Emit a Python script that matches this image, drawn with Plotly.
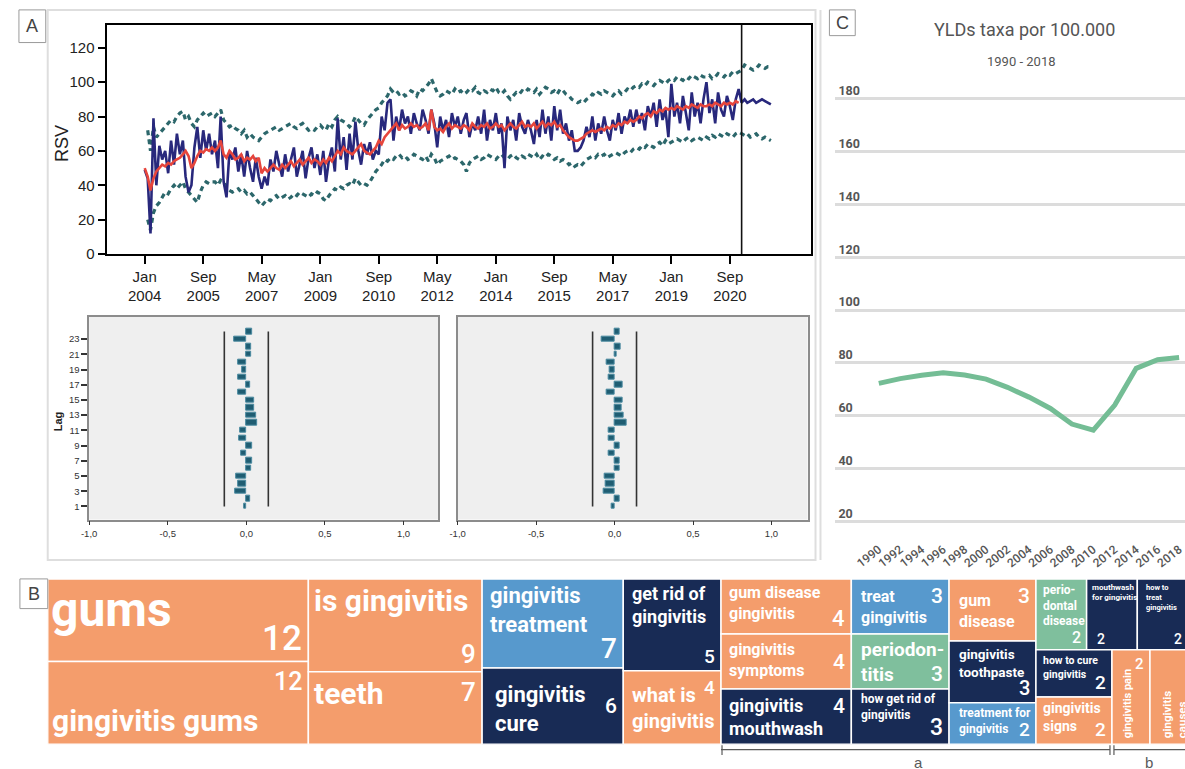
import plotly.graph_objects as go
import pandas as pd

W, H = 1185, 769

# ---------------- Panel A: monthly relative search volume ----------------
rsv = [
    49, 44, 12, 79, 40, 63, 55, 60, 47, 66, 52, 70,
    58, 66, 45, 36, 40, 62, 74, 56, 72, 60, 70, 58,
    66, 50, 80, 42, 33, 60, 55, 62, 48, 58, 45, 60,
    50, 42, 56, 45, 38, 45, 40, 55, 48, 60, 52, 45,
    58, 48, 55, 62, 45, 52, 60, 44, 56, 62, 50, 58,
    46, 60, 42, 55, 62, 48, 79, 55, 68, 49, 70, 55,
    77, 60, 52, 64, 58, 65, 55, 60, 58, 80, 72, 88,
    90, 66, 80, 72, 84, 76, 80, 70, 82, 76, 72, 84,
    78, 70, 84, 76, 62, 80, 72, 78, 68, 82, 74, 80,
    70, 78, 82, 68, 76, 72, 80, 70, 84, 66, 78, 72,
    82, 70, 76, 50, 80, 72, 78, 66, 82, 74, 70, 78,
    72, 64, 78, 68, 84, 70, 80, 66, 86, 72, 84, 70,
    76, 66, 72, 60, 60, 62, 66, 74, 68, 80, 66, 76,
    70, 80, 72, 66, 78, 72, 82, 70, 80, 76, 84, 74,
    84, 76, 82, 72, 86, 80, 88, 74, 90, 78, 84, 68,
    99, 80, 88, 76, 92, 82, 72, 94, 80, 88, 76, 90,
    100, 82, 90, 76, 94, 84, 80, 92, 86, 78, 90, 96,
    88, 90, 88, 89, 90, 88, 89, 90, 89, 88, 87,
]
rsv_fit = [
    50, 45, 37, 44, 48, 50, 52, 51, 53, 52, 54, 55,
    56, 58, 60, 57, 50, 53, 57, 60, 59, 61, 60, 62,
    60, 62, 66, 58, 56, 60, 58, 55, 56, 58, 54, 56,
    55, 57, 54, 56, 47, 50, 48, 50, 52, 50, 49, 52,
    50, 52, 54, 51, 53, 55, 52, 54, 56, 53, 55, 54,
    52, 55, 53, 56, 54, 57, 60, 58, 62, 60, 59, 58,
    60, 62, 64, 60, 59, 58, 60, 62, 66, 64, 68, 70,
    72, 74, 76, 72, 75, 73, 74, 76, 74, 75, 73, 74,
    76, 72, 84, 74, 72, 73, 71, 74, 76, 73, 75, 74,
    73, 75, 74, 72, 76, 74, 73, 75, 74, 76, 73, 74,
    76, 74, 75, 72, 74, 76, 74, 73, 75, 77, 74, 75,
    74, 76, 73, 75, 77, 74, 76, 75, 77, 74, 75, 72,
    70, 68, 67, 66, 66, 67, 68, 70, 71, 72, 71, 72,
    73, 72, 74, 73, 75, 74, 76, 75, 77, 76, 78, 77,
    78, 80, 79, 81, 82, 80, 83, 82, 84, 83, 85, 84,
    85, 84, 86, 85, 84, 86, 85, 87, 86, 85, 87, 86,
    86, 87, 86, 88, 87, 86, 88, 87, 88, 87, 89, 88,
]
rsv_ucl = [
    72, 60, 74, 68, 70, 72, 74, 76, 78, 77, 80,
    82, 83, 78, 80, 76, 74, 78, 80, 82, 80, 81, 82,
    80, 82, 84, 78, 76, 74, 75, 73, 72, 70, 72, 68,
    70, 68, 67, 66, 68, 70, 71, 72, 73, 74, 72, 73,
    74, 75, 76, 74, 73, 75, 76, 74, 72, 73, 72, 74,
    75, 73, 72, 76, 74, 78, 80, 78, 77, 76, 74, 76,
    80, 78, 76, 75, 78, 80, 82, 84, 85, 88, 90, 92,
    96, 94, 95, 93, 94, 92, 93, 95, 94, 92, 96, 95,
    97, 99, 102, 98, 94, 92, 93, 95, 94, 93, 96, 94,
    95, 93, 94, 96, 95, 97, 94, 93, 95, 94, 96, 95,
    97, 94, 93, 95, 92, 90, 92, 94, 93, 95, 94, 96,
    95, 94, 96, 93, 95, 97, 96, 94, 95, 93, 96, 95,
    93, 92, 90, 89, 88, 89, 88, 90, 91, 93, 92, 94,
    93, 95, 94, 93, 92, 94, 95, 93, 94, 96, 95, 97,
    98, 97, 99, 98, 100, 99, 98, 100, 101, 100, 99, 101,
    102, 101, 103, 102, 101, 103, 102, 104, 103, 102, 104, 103,
    103, 104, 102, 103, 105, 104, 103, 105, 104, 106, 105, 106,
    107, 110, 109, 108, 107, 108, 110, 109, 108, 109, 109,
]
rsv_lcl = [
    20, 14, 24, 28, 30, 33, 36, 35, 38, 40, 38,
    40, 42, 38, 36, 34, 32, 30, 36, 40, 42, 41, 42,
    42, 40, 43, 42, 38, 37, 36, 37, 38, 36, 37, 35,
    36, 34, 32, 30, 28, 30, 32, 31, 33, 34, 32, 33,
    34, 32, 33, 35, 34, 36, 35, 34, 33, 35, 34, 36,
    35, 32, 31, 34, 36, 38, 37, 39, 38, 40, 41, 40,
    44, 42, 40, 41, 40, 42, 45, 48, 50, 52, 55, 54,
    56, 55, 57, 58, 56, 57, 55, 56, 58, 57, 56, 55,
    57, 54, 58, 56, 52, 54, 55, 56, 57, 55, 56, 55,
    54, 52, 48, 53, 55, 56, 57, 55, 56, 58, 57, 56,
    55, 57, 58, 56, 55, 57, 58, 56, 55, 57, 56, 58,
    57, 56, 58, 55, 57, 56, 58, 57, 55, 56, 54, 55,
    54, 52, 53, 51, 52, 51, 53, 55, 56, 57, 56, 58,
    57, 58, 56, 57, 58, 59, 58, 57, 59, 60, 59, 61,
    62, 61, 63, 62, 64, 63, 62, 64, 65, 63, 66, 64,
    65, 66, 67, 66, 65, 67, 68, 66, 67, 68, 67, 66,
    68, 67, 69, 68, 70, 69, 68, 70, 69, 68, 70, 71,
    70, 69, 70, 68, 69, 70, 68, 67, 68, 67, 66,
]
forecast_start = "2021-01-01"
date_ticks = ["2004-01-01", "2005-09-01", "2007-05-01", "2009-01-01", "2010-09-01",
              "2012-05-01", "2014-01-01", "2015-09-01", "2017-05-01", "2019-01-01",
              "2020-09-01"]
date_tick_text = ["Jan<br>2004", "Sep<br>2005", "May<br>2007", "Jan<br>2009", "Sep<br>2010",
                  "May<br>2012", "Jan<br>2014", "Sep<br>2015", "May<br>2017", "Jan<br>2019",
                  "Sep<br>2020"]

# residual autocorrelations
lags = list(range(1, 25))
acf_vals = [-0.015, 0.025, -0.07, -0.055, -0.065, 0.03, 0.035, -0.03, 0.04, -0.045,
            -0.04, 0.07, 0.06, 0.05, 0.05, -0.05, 0.025, -0.05, -0.025, -0.05,
            0.03, 0.03, -0.075, 0.04]
pacf_vals = [-0.02, 0.03, -0.07, -0.055, -0.065, 0.03, 0.03, -0.04, 0.035, -0.04,
             -0.04, 0.075, 0.06, 0.045, 0.05, -0.05, 0.05, -0.035, -0.03, -0.05,
             0.015, 0.04, -0.085, 0.03]
conf_limit = 0.14
acf_ticks = [-1.0, -0.5, 0.0, 0.5, 1.0]
acf_tick_text = ["-1,0", "-0,5", "0,0", "0,5", "1,0"]

# ---------------- Panel C: YLD rate per 100,000 ----------------
yld_years = [1990, 1992, 1994, 1996, 1998, 2000, 2002, 2004, 2006, 2008, 2010, 2012,
             2014, 2016, 2018]
yld_rate = [72.2, 74.0, 75.3, 76.2, 75.4, 73.8, 70.7, 67.0, 62.7, 56.8, 54.5, 64.0,
            77.9, 81.2, 82.0]

# ---------------- Panel B: related search terms ----------------
terms = ["gums", "gingivitis gums", "is gingivitis", "teeth", "gingivitis treatment",
         "gingivitis cure", "get rid of gingivitis", "what is gingivitis",
         "gum disease gingivitis", "gingivitis symptoms", "gingivitis mouthwash",
         "treat gingivitis", "periodontitis", "how get rid of gingivitis", "gum disease",
         "gingivitis toothpaste", "treatment for gingivitis", "periodontal disease",
         "mouthwash for gingivitis", "how to treat gingivitis", "how to cure gingivitis",
         "gingivitis signs", "gingivitis pain", "gingivitis causes"]
term_score = [12, 12, 9, 7, 7, 6, 5, 4, 4, 4, 4, 3, 3, 3, 3, 3, 2, 2, 2, 2, 2, 2, 2, 2]
term_group = ["o", "o", "o", "o", "lb", "n", "n", "o", "o", "o", "n", "lb", "g", "n",
              "o", "n", "lb", "g", "n", "n", "n", "o", "o", "o"]

# ---- styling for the term tiles ----
group_color = {"o": "#f49d6c", "lb": "#5799cd", "n": "#182b55", "g": "#7fbf9d"}
display_text = {
    "gingivitis treatment": "gingivitis<br>treatment", "gingivitis cure": "gingivitis<br>cure",
    "get rid of gingivitis": "get rid of<br>gingivitis", "what is gingivitis": "what is<br>gingivitis",
    "gum disease gingivitis": "gum disease<br>gingivitis",
    "gingivitis symptoms": "gingivitis<br>symptoms", "gingivitis mouthwash": "gingivitis<br>mouthwash",
    "treat gingivitis": "treat<br>gingivitis", "periodontitis": "periodon-<br>titis",
    "how get rid of gingivitis": "how get rid of<br>gingivitis", "gum disease": "gum<br>disease",
    "gingivitis toothpaste": "gingivitis<br>toothpaste",
    "treatment for gingivitis": "treatment for<br>gingivitis",
    "periodontal disease": "perio-<br>dontal<br>disease",
    "mouthwash for gingivitis": "mouthwash<br>for gingivitis",
    "how to treat gingivitis": "how to<br>treat<br>gingivitis",
    "how to cure gingivitis": "how to cure<br>gingivitis", "gingivitis signs": "gingivitis<br>signs",
    "gingivitis causes": "gingivitis<br>causes",
}
label_size = [48, 30, 30, 30, 22, 22, 18, 20, 16, 16, 18, 16, 19, 12, 16, 13.5, 12, 12, 8,
              7.5, 10.5, 14, 11, 11.5]
label_top = [0, None, 2, 2, 2, 12, 2, 10, 2, 4, 4, 6, 2, 1, 10, 3, 1, 2, 2, 2, 2, 1, None, None]
label_left = [1, 2, 4, 4, 6, 11, 7, 7, 6, 6, 6, 8, 8, 8, 8, 8, 8, 5, 3, 7, 5, 5, 7, 8]
value_size = [35, 25, 26, 26, 28, 21, 19, 19, 22, 21, 21, 21, 21, 23, 21, 20, 19, 16, 14,
              14, 19, 19, 15, 14]
value_pos = ["br", "tr", "br", "tr", "br", "mr", "br", "tr", "br", "mr", "tr", "tr", "br",
             "br", "tr", "br", "br", "br", "bl", "br", "br", "br", "tr", None]


def squarify(values, x0, y0, x1, y1, ratio=(1 + 5 ** 0.5) / 2):
    """Squarified tiling (same rule as d3.treemapSquarify)."""
    rects = [None] * len(values)
    total = float(sum(values))
    i0, n = 0, len(values)
    while i0 < n:
        dx, dy = x1 - x0, y1 - y0
        s = values[i0]
        i1 = i0 + 1
        mn = mx = s
        alpha = max(dy / dx, dx / dy) / (total * ratio)
        beta = s * s * alpha
        best = max(mx / beta, beta / mn)
        while i1 < n:
            v = values[i1]
            s2, mn2, mx2 = s + v, min(mn, v), max(mx, v)
            beta = s2 * s2 * alpha
            r = max(mx2 / beta, beta / mn2)
            if r > best:
                break
            s, mn, mx, best = s2, mn2, mx2, r
            i1 += 1
        if dx < dy:
            h = dy * s / total
            xx = x0
            for i in range(i0, i1):
                w = dx * values[i] / s
                rects[i] = (xx, y0, xx + w, y0 + h)
                xx += w
            y0 += h
        else:
            w = dx * s / total
            yy = y0
            for i in range(i0, i1):
                h = dy * values[i] / s
                rects[i] = (x0, yy, x0 + w, yy + h)
                yy += h
            x0 += w
        total -= s
        i0 = i1
    return rects


def px(x):
    return x / W


def py(y):
    return 1 - y / H


FONT_A = "Arial, Liberation Sans, sans-serif"
FONT_B = "Roboto, sans-serif"

fig = go.Figure()

# ---- time series ----
obs_dates = pd.date_range("2004-01-01", periods=len(rsv), freq="MS")
fit_dates = pd.date_range("2004-01-01", periods=len(rsv_fit), freq="MS")
cl_dates = pd.date_range("2004-02-01", periods=len(rsv_ucl), freq="MS")
for series in (rsv_ucl, rsv_lcl):
    fig.add_trace(go.Scatter(x=cl_dates, y=series, mode="lines", xaxis="x", yaxis="y",
                             line=dict(color="#2c676b", width=3.2, dash="5px,4px"),
                             showlegend=False, hoverinfo="skip"))
fig.add_trace(go.Scatter(x=obs_dates, y=rsv, mode="lines", xaxis="x", yaxis="y",
                         line=dict(color="#28287c", width=2.6), showlegend=False))
fig.add_trace(go.Scatter(x=fit_dates, y=rsv_fit, mode="lines", xaxis="x", yaxis="y",
                         line=dict(color="#e6453c", width=2.6), showlegend=False))

# ---- ACF / PACF of residuals ----
for vals, xa, ya in ((acf_vals, "x2", "y2"), (pacf_vals, "x3", "y3")):
    fig.add_trace(go.Bar(x=vals, y=lags, orientation="h", xaxis=xa, yaxis=ya, width=0.72,
                         marker=dict(color="#1f5d72", line=dict(color="#4a8aa0", width=1)),
                         showlegend=False))
    for c in (-conf_limit, conf_limit):
        fig.add_trace(go.Scatter(x=[c, c], y=[lags[0], lags[-1]], mode="lines",
                                 xaxis=xa, yaxis=ya, line=dict(color="#333333", width=1.6),
                                 showlegend=False, hoverinfo="skip"))

# ---- YLD line ----
fig.add_trace(go.Scatter(x=yld_years, y=yld_rate, mode="lines", xaxis="x4", yaxis="y4",
                         line=dict(color="#74bd95", width=5), showlegend=False))

# ---- term tiles ----
TM_W, TM_H = 1148, 167
rects = squarify(term_score, 0, 0, TM_W, TM_H)
shapes = []
annotations = []
for i, (t, v, g, r) in enumerate(zip(terms, term_score, term_group, rects)):
    x0, y0, x1, y1 = r
    shapes.append(dict(type="rect", xref="x5", yref="y5", x0=x0, y0=y0, x1=x1, y1=y1,
                       fillcolor=group_color[g], line=dict(color="white", width=1.5),
                       layer="below"))
    txt = display_text.get(t, t)
    lf = dict(family=FONT_B, size=label_size[i], color="white", weight=700)
    if i in (22, 23):
        annotations.append(dict(xref="x5", yref="y5", x=x0 + label_left[i], y=y1 - 4,
                                text=txt, textangle=-90, xanchor="left", yanchor="bottom",
                                showarrow=False, font=lf, align="left"))
    elif label_top[i] is None:
        annotations.append(dict(xref="x5", yref="y5", x=x0 + label_left[i], y=y1 - 4,
                                text=txt, xanchor="left", yanchor="bottom",
                                showarrow=False, font=lf, align="left"))
    else:
        annotations.append(dict(xref="x5", yref="y5", x=x0 + label_left[i], y=y0 + label_top[i],
                                text=txt, xanchor="left", yanchor="top",
                                showarrow=False, font=lf, align="left"))
    pos = value_pos[i]
    if pos is None:
        continue
    vf = dict(family=FONT_B, size=value_size[i], color="white", weight=500)
    if pos == "br":
        ax, ay, xa_, ya_ = x1 - 4, y1 - 1, "right", "bottom"
    elif pos == "tr":
        ax, ay, xa_, ya_ = x1 - 4, y0 + 3, "right", "top"
    elif pos == "mr":
        ax, ay, xa_, ya_ = x1 - 4, (y0 + y1) / 2, "right", "middle"
    else:
        ax, ay, xa_, ya_ = x0 + 8, y1 - 1, "left", "bottom"
    annotations.append(dict(xref="x5", yref="y5", x=ax, y=ay, text=str(v), xanchor=xa_,
                            yanchor=ya_, showarrow=False, font=vf))

# bracket under the tiles marking the two term subsets
TM_LEFT = 40
a_start = TM_LEFT + rects[8][0]
b_start = TM_LEFT + rects[22][0]
br_y = 757.5
gray = "#5a5a5a"
for xa0, xa1 in ((a_start, b_start - 2), (b_start + 2, W + 5)):
    shapes.append(dict(type="line", xref="paper", yref="paper", x0=px(xa0), x1=px(xa1),
                       y0=py(br_y), y1=py(br_y), line=dict(color=gray, width=1.2)))
for xt in (a_start + 1, b_start - 2, b_start + 2):
    shapes.append(dict(type="line", xref="paper", yref="paper", x0=px(xt), x1=px(xt),
                       y0=py(753), y1=py(763), line=dict(color=gray, width=1.2)))
annotations.append(dict(xref="paper", yref="paper", x=px((a_start + b_start) / 2 + 2),
                        y=py(760), text="a", showarrow=False, xanchor="center", yanchor="top",
                        font=dict(family=FONT_A, size=15, color=gray)))
annotations.append(dict(xref="paper", yref="paper", x=px(b_start + 37), y=py(760), text="b",
                        showarrow=False, xanchor="center", yanchor="top",
                        font=dict(family=FONT_A, size=15, color=gray)))

# ---- panel frames and letters ----
frame_col = "#dedede"
shapes.append(dict(type="rect", xref="paper", yref="paper", x0=px(40), x1=px(813),
                   y0=py(566), y1=py(10), line=dict(color=frame_col, width=2), layer="below"))
shapes.append(dict(type="line", xref="paper", yref="paper", x0=px(818), x1=px(818),
                   y0=py(566), y1=py(10), line=dict(color=frame_col, width=2), layer="below"))
for letter, (bx0, by0, bx1, by1) in (("A", (11, 10, 38, 43)), ("B", (12, 585, 40, 615)),
                                     ("C", (827, 10, 853, 36))):
    shapes.append(dict(type="rect", xref="paper", yref="paper", x0=px(bx0), x1=px(bx1),
                       y0=py(by1), y1=py(by0), fillcolor="white",
                       line=dict(color="#9a9a9a", width=1)))
    annotations.append(dict(xref="paper", yref="paper", x=px((bx0 + bx1) / 2),
                            y=py((by0 + by1) / 2), text=letter, showarrow=False,
                            xanchor="center", yanchor="middle",
                            font=dict(family=FONT_A, size=18, color="#444444")))

# forecast origin line in panel A
shapes.append(dict(type="line", xref="x", yref="y domain", x0=forecast_start, x1=forecast_start,
                   y0=0, y1=1, line=dict(color="#111111", width=1.6)))
# grey plotting area of the correlograms
for xr, yr in (("x2 domain", "y2 domain"), ("x3 domain", "y3 domain")):
    shapes.append(dict(type="rect", xref=xr, yref=yr, x0=0, x1=1, y0=0, y1=1,
                       fillcolor="#efefef", line=dict(width=0), layer="below"))

# axis titles and panel C headings
annotations += [
    dict(xref="paper", yref="paper", x=px(55), y=py(145), text="RSV", textangle=-90,
         xanchor="center", yanchor="middle", showarrow=False,
         font=dict(family=FONT_A, size=18, color="#222222")),
    dict(xref="paper", yref="paper", x=px(50), y=py(426), text="Lag", textangle=-90,
         xanchor="center", yanchor="middle", showarrow=False,
         font=dict(family=FONT_A, size=11, color="#222222", weight=700)),
    dict(xref="paper", yref="paper", x=px(1023), y=py(30), text="YLDs taxa por 100.000",
         xanchor="center", yanchor="middle", showarrow=False,
         font=dict(family=FONT_B, size=18, color="#555555")),
    dict(xref="paper", yref="paper", x=px(1020), y=py(62), text="1990 - 2018",
         xanchor="center", yanchor="middle", showarrow=False,
         font=dict(family=FONT_B, size=13, color="#555555")),
]

ts_axis = dict(showline=True, mirror=True, linecolor="black", linewidth=1.5, showgrid=False,
               zeroline=False, ticks="outside", ticklen=8, tickwidth=2.4, tickcolor="black",
               tickfont=dict(family=FONT_A, size=15, color="#222222"))
acf_x = dict(range=[-1, 1.22], tickvals=acf_ticks, ticktext=acf_tick_text, showline=True,
             mirror=True, linecolor="#8c8c8c", linewidth=1.5, showgrid=False, zeroline=False,
             ticks="outside", ticklen=4, tickcolor="#333333",
             tickfont=dict(family=FONT_A, size=9.5, color="#333333"))
acf_y = dict(range=[-0.73, 25.95], showline=True, mirror=True, linecolor="#8c8c8c",
             linewidth=1.5, showgrid=False, zeroline=False)

fig.update_layout(
    width=W, height=H, margin=dict(l=0, r=0, t=0, b=0),
    paper_bgcolor="white", plot_bgcolor="rgba(0,0,0,0)", bargap=0,
    xaxis=dict(ts_axis, domain=[px(100), px(808)], type="date",
               range=["2002-12-08", "2022-12-19"], tickvals=date_ticks,
               ticktext=date_tick_text, anchor="y"),
    yaxis=dict(ts_axis, domain=[py(256.7), py(25)], range=[0, 133.4],
               tickvals=[0, 20, 40, 60, 80, 100, 120], anchor="x"),
    xaxis2=dict(acf_x, domain=[px(81.7), px(433)], anchor="y2"),
    yaxis2=dict(acf_y, domain=[py(525), py(320)], anchor="x2", tickvals=list(range(1, 24, 2)),
                ticks="outside", ticklen=6, tickwidth=1.5, tickcolor="#333333",
                tickfont=dict(family=FONT_A, size=9.5, color="#333333")),
    xaxis3=dict(acf_x, domain=[px(452.7), px(805)], anchor="y3", range=[-1, 1.23]),
    yaxis3=dict(acf_y, domain=[py(525), py(320)], anchor="x3", showticklabels=False,
                ticks=""),
    xaxis4=dict(domain=[px(833), 1], range=[1985.95, 2018.55], anchor="y4",
                tickvals=list(range(1990, 2019, 2)), tickangle=-38, showgrid=False,
                zeroline=False, showline=False, ticks="", ticklabelstandoff=5,
                tickfont=dict(family=FONT_B, size=12, color="#555555", weight=500)),
    yaxis4=dict(domain=[py(540), py(78)], range=[15.0, 188.2], anchor="x4",
                tickvals=list(range(20, 181, 20)), showgrid=True, gridcolor="#dcdcdc",
                gridwidth=2.5, zeroline=False, showline=False, ticks="",
                ticklabelposition="inside", ticklabelshift=-8,
                tickfont=dict(family=FONT_B, size=12.5, color="#555555", weight=700)),
    xaxis5=dict(domain=[px(40), 1], range=[0, W - 40], anchor="y5", visible=False),
    yaxis5=dict(domain=[py(752), py(585)], range=[TM_H, 0], anchor="x5", visible=False),
    shapes=shapes, annotations=annotations,
)

fig.write_html("out.html", config={"displayModeBar": False})
